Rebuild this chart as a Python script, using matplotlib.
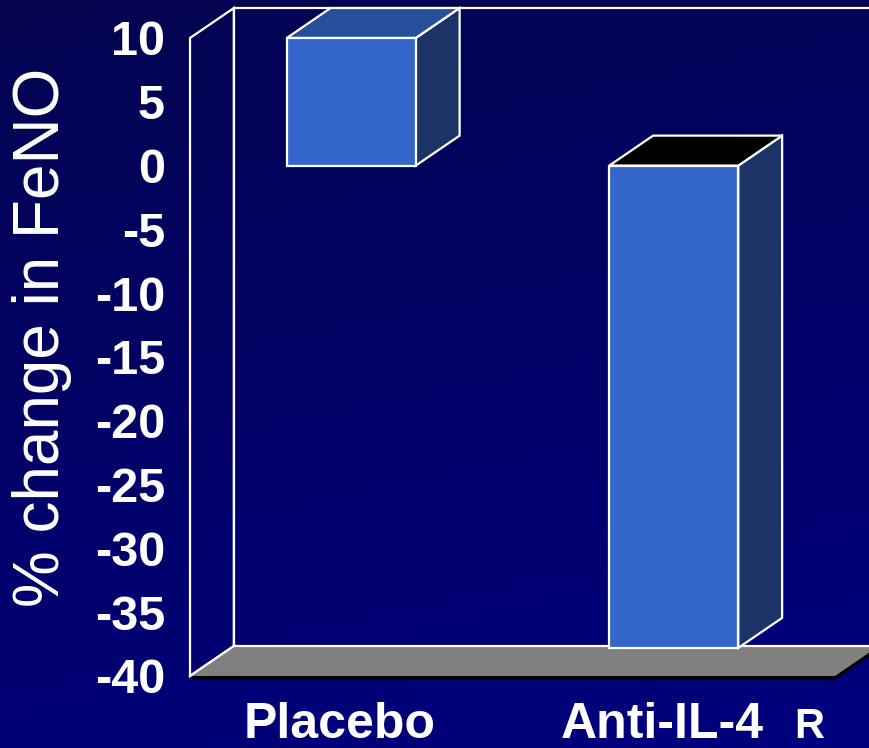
import numpy as np
import matplotlib
matplotlib.use("Agg")
import matplotlib.pyplot as plt
from matplotlib.patches import Polygon
from matplotlib.colors import LinearSegmentedColormap
from matplotlib.transforms import ScaledTranslation

plt.rcParams['font.family'] = ['Liberation Sans', 'DejaVu Sans']

groups = ["Placebo", "Anti-IL-4"]
group_subs = ["", "R"]
change = [10, -37.8]
yticks = [10, 5, 0, -5, -10, -15, -20, -25, -30, -35, -40]

front_col = "#3566cc"
side_col = "#1b3366"
top_cols = ["#27509a", "#000000"]

# fake 3d depth, in data units
dx, dy = 0.136, 2.35
w = 0.4
ymin, ymax = -40, 10
xmin, xmax = -0.5, 1.5

fig = plt.figure(figsize=(8.7, 7.48), dpi=100)

# navy gradient behind everything
bg = fig.add_axes([0, 0, 1, 1], zorder=-10)
cmap = LinearSegmentedColormap.from_list("navy", ["#040450", "#020268", "#00007f"])
yy, xx = np.mgrid[0:1:200j, 0:1:200j]
grad = 0.8 * yy + 0.2 * xx
bg.imshow(grad, cmap=cmap, aspect="auto", extent=[0, 1, 1, 0], origin="upper")
bg.set_axis_off()

ax = fig.add_axes([0.2184, 0.0963, 0.7414, 0.8529])
ax.set_facecolor("none")
ax.set_xlim(xmin, xmax)
ax.set_ylim(ymin, ymax)
for s in ax.spines.values():
    s.set_visible(False)

edge = dict(edgecolor="white", linewidth=1.6, clip_on=False)

# back wall edges and left wall
ax.plot([xmin + dx, xmax + 1], [ymax + dy, ymax + dy], color="white", lw=1.6, clip_on=False, zorder=1)
ax.plot([xmin + dx, xmin + dx], [ymin + dy, ymax + dy], color="white", lw=1.6, clip_on=False, zorder=1)
ax.add_patch(Polygon([(xmin, ymin), (xmin + dx, ymin + dy), (xmin + dx, ymax + dy), (xmin, ymax)],
                     closed=True, facecolor="none", zorder=1, **edge))

# floor with a dark rim
sh = 0.3
ax.add_patch(Polygon([(xmin, ymin - sh), (xmax, ymin - sh), (xmax + dx, ymin + dy - sh),
                      (xmax + 1, ymin + dy - sh), (xmax + 1, ymin + dy), (xmin + dx, ymin + dy)],
                     closed=True, facecolor="black", edgecolor="none", clip_on=False, zorder=2))
ax.add_patch(Polygon([(xmin, ymin), (xmax, ymin), (xmax + dx, ymin + dy), (xmax + 1, ymin + dy),
                      (xmin + dx, ymin + dy)],
                     closed=True, facecolor="#808080", edgecolor="none", clip_on=False, zorder=3))
ax.plot([xmin + dx, xmax + 1], [ymin + dy, ymin + dy], color="white", lw=1.6, clip_on=False, zorder=3)
ax.plot([xmin, xmin + dx], [ymin, ymin + dy], color="white", lw=1.6, clip_on=False, zorder=3)

# bars: side, top, then front face
for i, v in enumerate(change):
    x0, x1 = i - w / 2, i + w / 2
    top = max(v, 0)
    ax.add_patch(Polygon([(x1, 0), (x1 + dx, dy), (x1 + dx, v + dy), (x1, v)],
                         closed=True, facecolor=side_col, zorder=4, **edge))
    ax.add_patch(Polygon([(x0, top), (x0 + dx, top + dy), (x1 + dx, top + dy), (x1, top)],
                         closed=True, facecolor=top_cols[i], zorder=4, **edge))
ax.bar(range(len(change)), change, width=w, color=front_col, edgecolor="white",
       linewidth=1.6, zorder=5, clip_on=False)

ax.set_yticks(yticks)
ax.set_yticklabels([str(t) for t in yticks])
ax.tick_params(axis="y", length=0, pad=18, labelsize=35, labelcolor="white")
for lbl in ax.get_yticklabels():
    lbl.set_fontweight("bold")

ax.set_xticks(range(len(groups)))
ax.set_xticklabels(groups)
ax.tick_params(axis="x", length=0, pad=19, labelsize=36, labelcolor="white")
shift = ScaledTranslation(-0.12, 0, fig.dpi_scale_trans)
for lbl, sub in zip(ax.get_xticklabels(), group_subs):
    lbl.set_fontweight("bold")
    lbl.set_transform(lbl.get_transform() + shift)
    if sub:
        ax.annotate(sub, xy=(1, 0), xycoords=lbl, xytext=(22, 1), textcoords="offset points",
                    ha="left", va="bottom", fontsize=30, fontweight="bold", color="white")

ax.set_ylabel("% change in FeNO", fontsize=46, color="white")
ax.yaxis.set_label_coords(-0.183, 0.53)

fig.savefig("out.png", dpi=100)
